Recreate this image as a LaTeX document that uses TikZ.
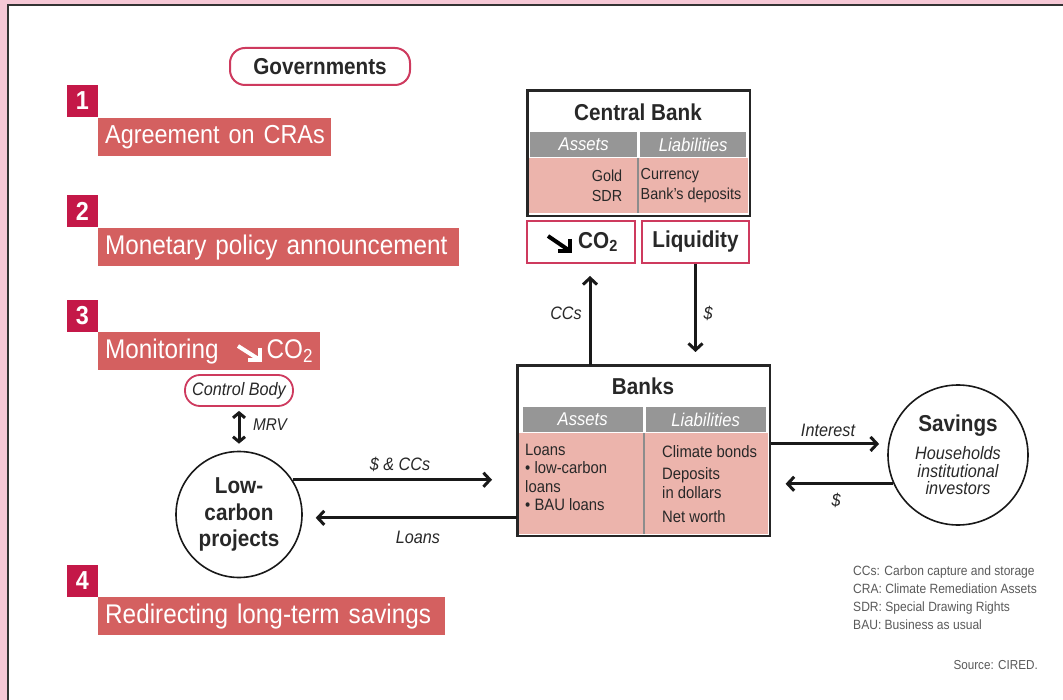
\documentclass[tikz,border=0pt]{standalone}
\usepackage{fontspec}
\setmainfont[FakeStretch=0.9]{Liberation Sans}
\usetikzlibrary{arrows.meta,calc}
\definecolor{bgpink}{RGB}{246,200,214}
\definecolor{numred}{RGB}{196,24,72}
\definecolor{barred}{RGB}{212,96,96}
\definecolor{edgered}{RGB}{206,58,94}
\definecolor{hdrgrey}{RGB}{150,150,150}
\definecolor{cellpink}{RGB}{236,180,172}
\definecolor{ink}{RGB}{40,40,40}
\definecolor{legendgrey}{RGB}{90,90,90}
\newcommand{\fsz}[2]{\fontsize{#1}{#2}\selectfont}
\begin{document}
\begin{tikzpicture}[x=1pt,y=-1pt,
  numsq/.style={fill=numred,text=white,font=\bfseries\fsz{26}{28},minimum width=31,minimum height=32,inner sep=0pt},
  bar/.style={fill=barred,text=white,font=\fsz{27}{30},minimum height=38,inner xsep=7pt,inner ysep=0pt,text width=#1,align=left,anchor=north west},
  govbox/.style={draw=edgered,line width=2pt,fill=white,rounded corners=15pt,minimum width=180,minimum height=37,inner sep=0pt,font=\bfseries\fsz{23}{26},text=ink},
  redbox/.style={draw=edgered,line width=2pt,fill=white,inner sep=0pt,font=\bfseries\fsz{23}{26},text=ink},
  frame/.style={draw=black!85,line width=1.6pt,inner sep=0pt,anchor=north west},
  hdr/.style={fill=hdrgrey,text=white,font=\itshape\fsz{18.5}{20},inner sep=0pt,anchor=north west},
  cell/.style={fill=cellpink,inner sep=0pt,anchor=north west},
  celltext/.style={text=ink,inner sep=0pt},
  title/.style={font=\bfseries\fsz{23}{26},text=ink,inner sep=0pt},
  lab/.style={font=\itshape\fsz{18}{20},text=ink,inner sep=0pt},
  arr/.style={line width=3pt,draw=black!90,-{Straight Barb[length=6.5pt,width=14pt]}},
  dbl/.style={line width=3pt,draw=black!90,{Straight Barb[length=5pt,width=12pt]}-{Straight Barb[length=5pt,width=12pt]}},
  bigarrow/.style={line width=4pt,line join=miter}
]
\useasboundingbox (0,0) rectangle (1063,700);
\fill[bgpink] (0,0) rectangle (1063,700);
\fill[white] (8,5) rectangle (1063,700);
\draw[line width=1.6pt,black!80] (8,700) -- (8,5) -- (1063,5);

% Governments and steps
\node[govbox] (gov) at (320,66.5) {Governments\hspace{8pt}};
\node[numsq] (n1) at (82.5,101) {1};
\node[bar=219] (b1) at (98,118) {\mbox{\fsz{26}{30}Agreement on CRAs}};
\node[numsq] (n2) at (82.5,211.5) {2};
\node[bar=347] (b2) at (98,228) {\mbox{Monetary policy announcement}};
\node[numsq] (n3) at (82.5,316) {3};
\node[bar=208] (b3) at (98,332) {\mbox{Monitoring\hspace{48pt}CO\textsubscript{2}}};
\coordinate (t3) at ($(b3.north west)+(162,28)$);
\draw[white,bigarrow] ($(t3)+(-22,-14)$) -- (t3);
\draw[white,bigarrow] ($(t3)+(0,-12)$) -- (t3) -- ($(t3)+(-12,0)$);
\node[numsq] (n4) at (82.5,581) {4};
\node[bar=333] (b4) at (98,597) {\mbox{Redirecting long-term savings}};

% Control body and low-carbon projects
\node[draw=edgered,line width=1.8pt,rounded corners=15pt,minimum width=108,minimum height=31,inner sep=0pt,font=\itshape\fsz{18}{20},text=ink] (cbody) at (239,390.5) {Control Body};
\node[circle,draw=black!90,line width=1.6pt,minimum size=126,inner sep=0pt,align=center,font=\bfseries\fsz{23}{26.5},text=ink] (low) at (239,514.5) {Low-\\carbon\\projects};
\draw[dbl,shorten <=4pt,shorten >=7pt] (cbody.south) -- (low.north);
\node[lab,font=\itshape\fsz{17}{19}] (mrv) at (270,425) {MRV};

% Central bank
\node[frame,minimum width=222,minimum height=125] (cb) at (527,90) {};
\node[title] (cbt) at (638,112) {Central Bank};
\node[hdr,minimum width=107,minimum height=25] (cbha) at (530,132) {Assets};
\node[hdr,minimum width=106,minimum height=25] (cbhl) at (640,132) {Liabilities};
\node[cell,minimum width=219,minimum height=55] (cbc) at (528.8,158) {};
\draw[black!45,line width=1.2pt] (638,158) -- (638,213.2);
\node[celltext,align=center,font=\fsz{16}{20}] (cbl) at (607,186) {Gold\\SDR};
\node[celltext,align=left,anchor=west,font=\fsz{16}{20}] (cbr) at (640.5,186) {Currency\\Bank's deposits};
\draw[black!85,line width=1.6pt] (cb.north west) rectangle (cb.south east);

\node[redbox,minimum width=108,minimum height=42] (co2) at (581,242) {\hspace{34pt}CO\textsubscript{2}};
\coordinate (tc) at ($(co2.west)+(44,9)$);
\draw[black,bigarrow] ($(tc)+(-22,-15)$) -- (tc);
\draw[black,bigarrow] ($(tc)+(0,-12)$) -- (tc) -- ($(tc)+(-12,0)$);
\node[redbox,minimum width=107,minimum height=42] (liq) at (695.5,242) {Liquidity};

% Banks
\node[frame,minimum width=252,minimum height=170] (bk) at (517,365) {};
\node[title] (bkt) at (643,386.5) {Banks};
\node[hdr,minimum width=120,minimum height=25] (bkha) at (522.5,407) {Assets};
\node[hdr,minimum width=120,minimum height=25] (bkhl) at (645.5,407) {Liabilities};
\node[cell,minimum width=249,minimum height=100.5] (bkc) at (518.5,433) {};
\draw[black!45,line width=1.2pt] (644,433) -- (644,534);
\draw[black!85,line width=1.6pt] (bk.north west) rectangle (bk.south east);
\node[celltext,align=left,anchor=north west,font=\fsz{16.5}{18.3}] (bkl) at (525,444) {Loans\\\textbullet{} low-carbon\\loans\\\textbullet{} BAU loans};
\node[celltext,align=left,anchor=north west,font=\fsz{16.5}{19}] (bkr) at (662,445) {Climate bonds\\[3pt]Deposits\\in dollars\\[5pt]Net worth};

% Savings
\node[circle,draw=black!90,line width=1.6pt,minimum size=140,inner sep=0pt,align=center,font=\itshape\fsz{18}{17.5},text=ink] (sav) at (958,455) {{\upshape\bfseries\fsz{23}{26}Savings}\\[9pt]Households\\institutional\\investors};

% Connectors
\coordinate (ccs) at ([xshift=9pt]co2.south);
\draw[arr,shorten >=12pt] (ccs |- bk.north) -- (ccs);
\node[lab] (lccs) at (566,313) {CCs};
\draw[arr,shorten >=13pt] (liq.south) -- (liq.south |- bk.north);
\node[lab] (ldol1) at (708,313) {\$};
\draw[arr,shorten >=25pt] (low.33) -- (low.33 -| bk.west);
\node[lab] (lsc) at (400,464) {\$ \& CCs};
\draw[arr,shorten >=13pt] (low.357 -| bk.west) -- (low.357);
\node[lab] (lloans) at (418,537) {Loans};
\draw[arr,shorten >=9pt] (bk.east |- sav.171) -- (sav.171);
\node[lab] (lint) at (828,430) {Interest};
\draw[arr,shorten >=15pt] (sav.204) -- (sav.204 -| bk.east);
\node[lab] (ldol2) at (836,500) {\$};

% Legend
\node[align=left,anchor=north west,inner sep=0pt,text=legendgrey,font=\fsz{13.4}{17.7}] (legend) at (853,566) {CCs: Carbon capture and storage\\CRA: Climate Remediation Assets\\SDR: Special Drawing Rights\\BAU: Business as usual};
\node[anchor=east,inner sep=0pt,text=legendgrey,font=\fsz{13}{15}] (source) at (1038,665) {Source: CIRED.};
\end{tikzpicture}
\end{document}
